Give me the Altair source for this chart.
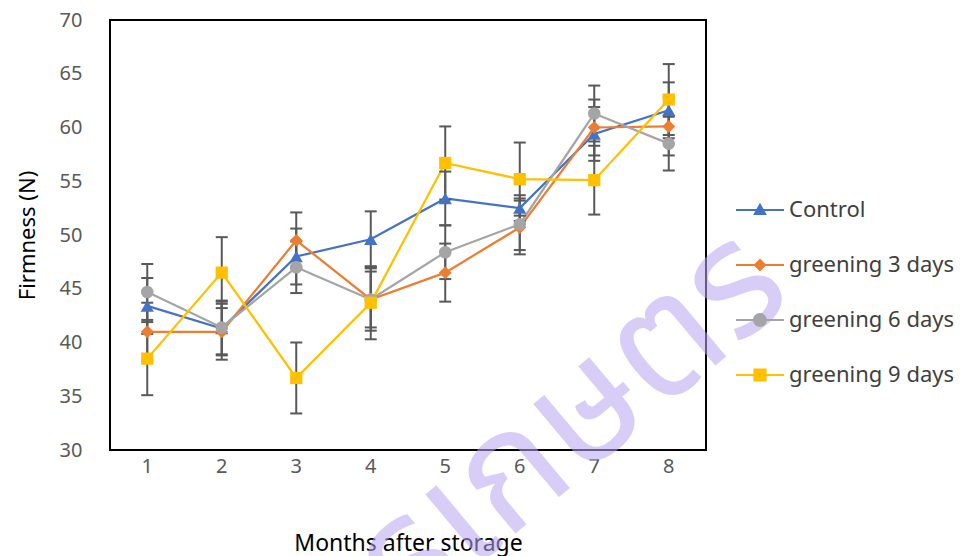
import altair as alt
import pandas as pd

months = [1, 2, 3, 4, 5, 6, 7, 8]
series_names = ["Control", "greening 3 days", "greening 6 days", "greening 9 days"]
control = [43.4, 41.3, 48.0, 49.6, 53.4, 52.5, 59.4, 61.6]
g3 = [41.0, 41.0, 49.5, 44.0, 46.5, 50.7, 60.0, 60.1]
g6 = [44.7, 41.4, 47.0, 44.0, 48.4, 51.0, 61.3, 58.5]
g9 = [38.5, 46.5, 36.7, 43.7, 56.7, 55.2, 55.1, 62.6]
control_err = [2.6, 2.5, 2.6, 2.6, 2.5, 1.2, 2.5, 2.6]
g3_err = [2.7, 2.6, 2.6, 2.9, 2.7, 2.5, 2.6, 2.7]
g6_err = [2.6, 2.5, 2.4, 2.6, 2.5, 2.4, 2.6, 2.5]
g9_err = [3.4, 3.3, 3.3, 3.4, 3.4, 3.4, 3.2, 3.3]
y_ticks = [30, 35, 40, 45, 50, 55, 60, 65, 70]
watermark = "การเกษตร"

colors = ["#4472C4", "#ED7D31", "#A5A5A5", "#FFC000"]
shapes = ["triangle-up", "diamond", "circle", "square"]
sizes = [175, 150, 180, 200]

rows = []
for name, vals, errs in zip(series_names, [control, g3, g6, g9],
                            [control_err, g3_err, g6_err, g9_err]):
    for m, v, e in zip(months, vals, errs):
        rows.append({"month": m, "series": name, "value": v,
                     "lo": round(v - e, 2), "hi": round(v + e, 2)})
df = pd.DataFrame(rows)

FONT = "Noto Sans"

x_enc = alt.X("month:O", scale=alt.Scale(domain=months),
              axis=alt.Axis(title="Months after storage", labelAngle=0,
                            labelFontSize=20, labelColor="#595959", labelFont=FONT,
                            labelPadding=6, domain=False, ticks=False, tickSize=0,
                            grid=False, titleFontSize=23, titleFont=FONT,
                            titleFontWeight="normal", titleColor="#000000",
                            titleY=93, titleBaseline="middle"))
y_scale = alt.Scale(domain=[30, 70], nice=False, zero=False)
y_enc = alt.Y("value:Q", scale=y_scale,
              axis=alt.Axis(title="Firmness (N)", values=y_ticks, labelFontSize=20,
                            labelColor="#595959", labelFont=FONT, labelPadding=28,
                            domain=False, ticks=False, tickSize=0, grid=False,
                            titleFontSize=22, titleFont=FONT, titleFontWeight="normal",
                            titleColor="#000000", titleX=-83, titleY=215,
                            titleAngle=270, titleAlign="center",
                            titleBaseline="middle"))

color_nolegend = alt.Color("series:N", scale=alt.Scale(domain=series_names, range=colors),
                           legend=None)

base = alt.Chart(df)

lines = base.mark_line(strokeWidth=2.25).encode(x=x_enc, y=y_enc, color=color_nolegend)

err_rules = base.mark_rule(color="#595959", strokeWidth=2).encode(
    x=alt.X("month:O"), y=alt.Y("lo:Q", scale=y_scale), y2="hi:Q")
cap_lo = base.mark_tick(color="#595959", size=12, thickness=2, opacity=1).encode(
    x=alt.X("month:O"), y=alt.Y("lo:Q", scale=y_scale))
cap_hi = base.mark_tick(color="#595959", size=12, thickness=2, opacity=1).encode(
    x=alt.X("month:O"), y=alt.Y("hi:Q", scale=y_scale))

points = base.mark_point(filled=True, opacity=1).encode(
    x=alt.X("month:O"), y=alt.Y("value:Q", scale=y_scale),
    color=color_nolegend,
    shape=alt.Shape("series:N", scale=alt.Scale(domain=series_names, range=shapes),
                    legend=None),
    size=alt.Size("series:N", scale=alt.Scale(domain=series_names, range=sizes),
                  legend=None))

# legend symbols: line segment + marker (custom paths)
seg = "M-4,-0.18H4V0.18H-4Z "
legend_paths = [
    seg + "M0,-1.2L1.15,0.85L-1.15,0.85Z",
    seg + "M0,-1.1L1.1,0L0,1.1L-1.1,0Z",
    seg + "M-1.15,0A1.15,1.15 0 1,1 1.15,0A1.15,1.15 0 1,1 -1.15,0Z",
    seg + "M-1.1,-1.1H1.1V1.1H-1.1Z",
]
leg = alt.Legend(title=None, orient="none", legendX=639, legendY=179,
                 labelFont=FONT, labelFontSize=22, labelColor="#404040",
                 labelOffset=18, labelLimit=300, rowPadding=33, symbolSize=144,
                 symbolStrokeWidth=0, symbolOpacity=1, padding=0, direction="vertical")
legend_layer = base.mark_point(filled=True, opacity=1, size=144).encode(
    x=alt.X("month:O"), y=alt.Y("value:Q", scale=y_scale),
    color=alt.Color("series:N", scale=alt.Scale(domain=series_names, range=colors),
                    legend=leg),
    shape=alt.Shape("series:N", scale=alt.Scale(domain=series_names, range=legend_paths),
                    legend=leg),
).transform_filter("datum.value > 1000")

wm = alt.Chart(pd.DataFrame({"t": [watermark]})).mark_text(
    font="Noto Sans Thai", fontSize=160, fontWeight="normal", color="#b9a5f2",
    opacity=0.55, angle=320, align="right", baseline="alphabetic").encode(
    text="t:N", x=alt.value(686), y=alt.value(278))

chart = alt.layer(lines, err_rules, cap_lo, cap_hi, points, legend_layer, wm).resolve_scale(
    color="independent", shape="independent", size="independent"
).properties(
    width=596, height=430, background="white",
    autosize=alt.AutoSizeParams(type="none"),
    padding={"left": 110, "top": 20, "right": 254, "bottom": 106},
).configure_view(stroke="#000000", strokeWidth=2)

chart.save("out.html", embed_options={"renderer": "svg", "actions": False})
